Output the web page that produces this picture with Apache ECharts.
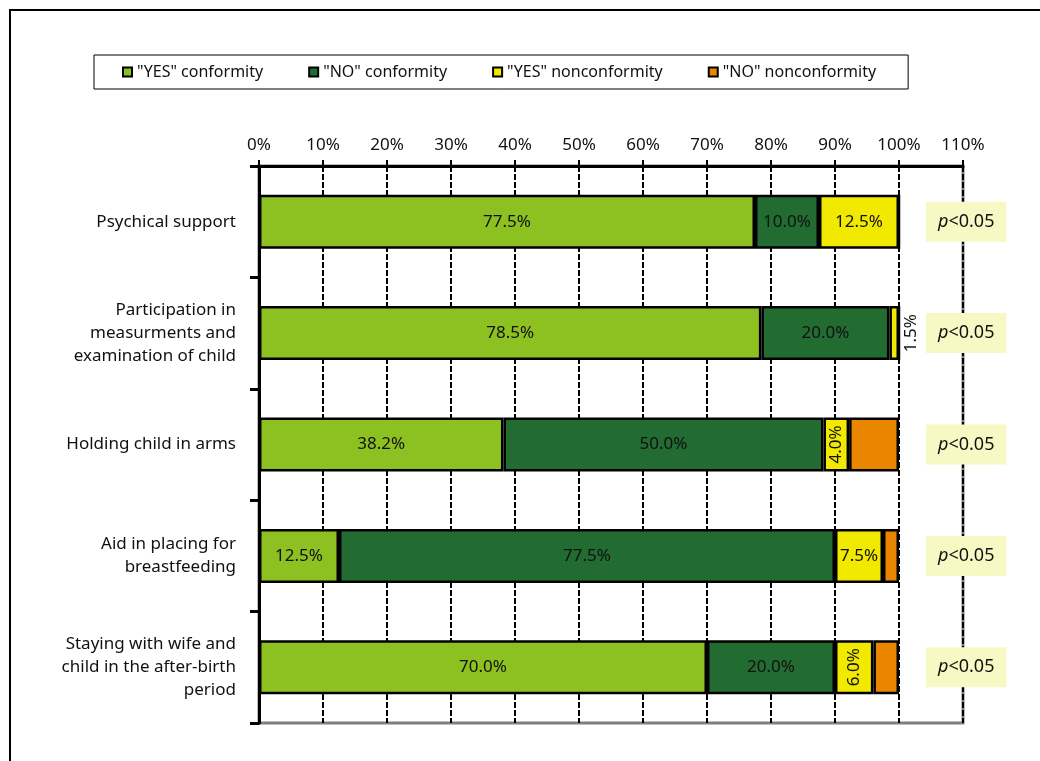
<!DOCTYPE html>
<html>
<head>
<meta charset="utf-8">
<script src="https://cdn.jsdelivr.net/npm/echarts@6/dist/echarts.min.js"></script>
<style>
  html, body { margin: 0; padding: 0; background: #fff; }
  #chart { width: 1040px; height: 761px; }
</style>
</head>
<body>
<div id="chart"></div>
<script>
// categories top to bottom
const categories = [
  'Psychical support',
  'Participation in\nmeasurments and\nexamination of child',
  'Holding child in arms',
  'Aid in placing for\nbreastfeeding',
  'Staying with wife and\nchild in the after-birth\nperiod'
];
const seriesNames = ['"YES" conformity', '"NO" conformity', '"YES" nonconformity', '"NO" nonconformity'];
const yesConformity = [77.5, 78.5, 38.2, 12.5, 70.0];
const noConformity = [10.0, 20.0, 50.0, 77.5, 20.0];
const yesNonconformity = [12.5, 1.5, 4.0, 7.5, 6.0];
const noNonconformity = [0, 0, 7.8, 2.5, 4.0];
const pValues = ['p<0.05', 'p<0.05', 'p<0.05', 'p<0.05', 'p<0.05'];
const colors = ['#8cc121', '#226b31', '#f1e900', '#ea8500'];

const FONT = 'Noto Sans';
const chart = echarts.init(document.getElementById('chart'));

const pct = p => p.value.toFixed(1) + '%';

// yellow labels: some are turned on their side
const yellowData = yesNonconformity.map((v, i) => {
  if (i === 1) {
    return { value: v, label: { position: 'right', rotate: 90, align: 'center', verticalAlign: 'middle', distance: 12 } };
  }
  if (i === 2 || i === 4) {
    return { value: v, label: { rotate: 90 } };
  }
  return v;
});

function barSeries(name, data, color, showLabel) {
  return {
    name: name,
    type: 'bar',
    stack: 'total',
    barWidth: 54,
    data: data,
    itemStyle: { color: color, borderColor: '#000', borderWidth: 2.5 },
    label: {
      show: showLabel,
      position: 'inside',
      formatter: pct,
      color: '#111',
      fontFamily: FONT,
      fontSize: 17
    }
  };
}

const option = {
  animation: false,
  backgroundColor: '#fff',
  textStyle: { fontFamily: FONT },
  graphic: [{
    type: 'rect',
    shape: { x: 10, y: 10, width: 1100, height: 800 },
    style: { fill: 'none', stroke: '#000', lineWidth: 2 },
    z: 100
  }],
  legend: {
    left: 94,
    top: 55,
    padding: [9, 32, 9, 28],
    itemGap: 45,
    itemWidth: 9,
    itemHeight: 9,
    icon: 'rect',
    borderColor: '#000',
    borderWidth: 1,
    textStyle: { fontFamily: FONT, fontSize: 16, color: '#111' },
    data: seriesNames.map((n, i) => ({
      name: n,
      itemStyle: { color: colors[i], borderColor: '#000', borderWidth: 2 }
    }))
  },
  grid: {
    left: 259,
    right: 77,
    top: 166,
    bottom: 38,
    show: true,
    borderColor: '#7f7f7f',
    borderWidth: 3
  },
  xAxis: {
    type: 'value',
    position: 'top',
    min: 0,
    max: 110,
    interval: 10,
    axisLine: { show: true, lineStyle: { color: '#000', width: 3 } },
    axisTick: { show: true, inside: false, length: 6, lineStyle: { color: '#000', width: 2 } },
    axisLabel: { formatter: '{value}%', color: '#111', fontFamily: FONT, fontSize: 17, margin: 12 },
    splitLine: { show: true, lineStyle: { color: '#000', width: 2, type: [6, 2] } }
  },
  yAxis: [{
    type: 'category',
    inverse: true,
    data: categories,
    axisLine: { show: true, lineStyle: { color: '#000', width: 3 } },
    axisTick: { show: true, length: 9, lineStyle: { color: '#000', width: 3 } },
    axisLabel: { color: '#111', fontFamily: FONT, fontSize: 17, lineHeight: 23, margin: 23, align: 'right' },
    splitLine: { show: false }
  }, {
    type: 'category',
    inverse: true,
    position: 'right',
    data: pValues,
    z: 5,
    axisLine: { show: false },
    axisTick: { show: false },
    axisLabel: {
      margin: -37,
      align: 'left',
      formatter: v => '{i|p}{n|' + v.slice(1) + '}',
      backgroundColor: '#f8f8c4',
      padding: [11, 12, 11, 12],
      rich: {
        i: { fontStyle: 'italic', fontFamily: FONT, fontSize: 18, color: '#111' },
        n: { fontFamily: FONT, fontSize: 18, color: '#111' }
      }
    }
  }],
  series: [
    barSeries(seriesNames[0], yesConformity, colors[0], true),
    barSeries(seriesNames[1], noConformity, colors[1], true),
    barSeries(seriesNames[2], yellowData, colors[2], true),
    barSeries(seriesNames[3], noNonconformity, colors[3], false)
  ]
};

chart.setOption(option);
</script>
</body>
</html>
